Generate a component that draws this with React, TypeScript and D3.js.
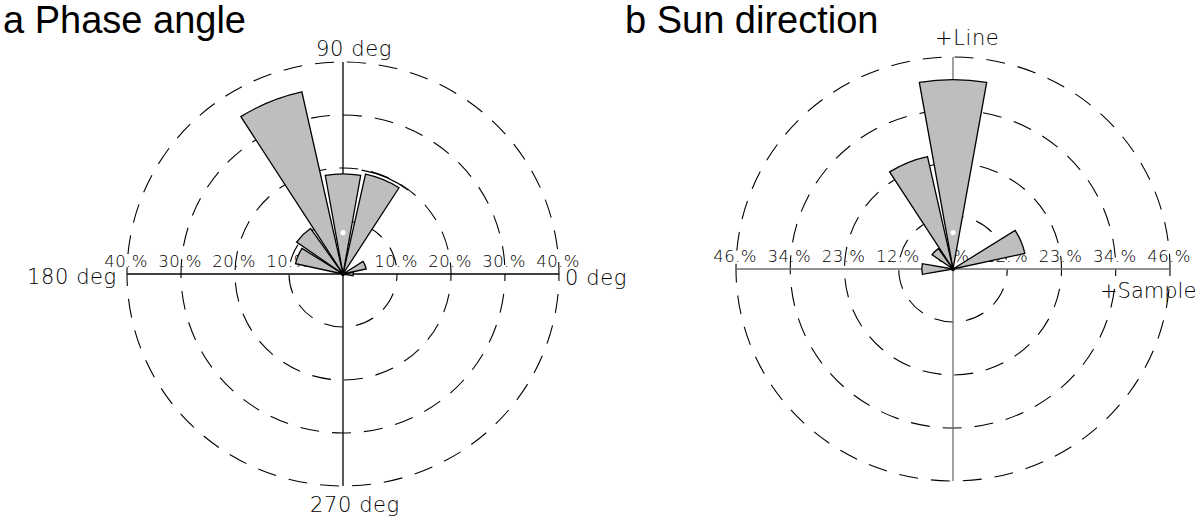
import React from 'react';
import * as d3 from 'd3';

// ---- data ----
const binCenters = [0, 22.5, 45, 67.5, 90, 112.5, 135, 157.5, 180, 202.5, 225, 247.5, 270, 292.5, 315, 337.5];
const phasePercent = [1.9, 4.4, 0, 19.3, 18.9, 35.2, 10.5, 9.0, 0, 0, 0, 0, 0, 0, 0, 0];
const sunPercent = [0, 15.6, 0, 0, 41.1, 25.0, 5.4, 0, 6.6, 0, 0, 0, 0, 0, 0, 0];
const phaseRingValues = [10, 20, 30, 40];
const phaseRingLabels = ['10.%', '20.%', '30.%', '40.%'];
const sunRingValues = [11.5, 23, 34.5, 46];
const sunRingLabels = ['12.%', '23.%', '34.%', '46.%'];
const phaseMean = { angle: 90, value: 7.8 };
const sunMean = { angle: 90, value: 7.9 };
const phaseErrArc = { start: 52.5, end: 80, value: 19.9 };
const panelTitles = ['a Phase angle', 'b Sun direction'];
const phaseAxisLabels = ['0 deg', '90 deg', '180 deg', '270 deg'];
const sunAxisLabels = ['+Sample', '+Line'];

const HALF_WIDTH = 10; // degrees drawn each side of bin centre
const thinFont = "'DejaVu Sans ExtraLight', 'DejaVu Sans', sans-serif";

const toD3 = (deg: number) => ((90 - deg) * Math.PI) / 180;

type PanelProps = {
  cx: number; cy: number; radius: number; ky: number; max: number;
  values: number[]; ringValues: number[]; ringLabels: string[];
  axisColor: string; mean: { angle: number; value: number };
  errArc?: { start: number; end: number; value: number };
  centerLabel?: string;
};

function Panel(p: PanelProps) {
  const r = d3.scaleLinear().domain([0, p.max]).range([0, p.radius]);
  const arc = d3.arc<any>();
  const ns = { vectorEffect: 'non-scaling-stroke' as const };
  const wedges = binCenters
    .map((c, i) => ({ c, v: p.values[i] }))
    .filter((d) => d.v > 0);
  const labelY = p.cy - 7;
  const mx = p.cx + r(p.mean.value) * Math.cos((p.mean.angle * Math.PI) / 180);
  const my = p.cy - r(p.mean.value) * p.ky * Math.sin((p.mean.angle * Math.PI) / 180);
  return (
    <g>
      <g transform={`translate(${p.cx},${p.cy}) scale(1,${p.ky})`}>
        {p.ringValues.map((v, i) => (
          <circle key={'ring' + i} r={r(v)} fill="none" stroke="#000" strokeWidth={1.1}
            strokeDasharray="19 13" strokeDashoffset={12} style={ns} />
        ))}
        <line x1={-p.radius} x2={p.radius} y1={0} y2={0} stroke={p.axisColor} strokeWidth={1.3} style={ns} />
        <line x1={0} x2={0} y1={-p.radius} y2={p.radius} stroke={p.axisColor} strokeWidth={1.3} style={ns} />
      </g>
      {p.ringValues.map((v, i) => (
        <g key={'lab' + i} fontFamily={thinFont} fontWeight={200} fontSize={16.5} fill="#000" textAnchor="middle" letterSpacing={0.4}>
          <text x={p.cx - r(v) - 1} y={labelY}>{p.ringLabels[i]}</text>
          <text x={p.cx + r(v) - 1} y={labelY}>{p.ringLabels[i]}</text>
        </g>
      ))}
      {p.centerLabel && (
        <text x={p.cx} y={labelY} fontFamily={thinFont} fontWeight={200} fontSize={16.5} fill="#000" textAnchor="middle" letterSpacing={0.4}>
          {p.centerLabel}
        </text>
      )}
      <g transform={`translate(${p.cx},${p.cy}) scale(1,${p.ky})`}>
        {wedges.map((d, i) => (
          <path key={'w' + i}
            d={arc({ innerRadius: 0, outerRadius: r(d.v), startAngle: toD3(d.c + HALF_WIDTH), endAngle: toD3(d.c - HALF_WIDTH) }) || ''}
            fill="#bebebe" stroke="#000" strokeWidth={1.3} strokeLinejoin="miter" style={ns} />
        ))}
        {p.errArc && (
          <path
            d={(() => {
              const pth = d3.path();
              const rr = r(p.errArc.value);
              pth.arc(0, 0, rr, (-p.errArc.end * Math.PI) / 180, (-p.errArc.start * Math.PI) / 180);
              return pth.toString();
            })()}
            fill="none" stroke="#000" strokeWidth={1.1} style={ns} />
        )}
        <circle r={2.2} fill="#000" />
      </g>
      <circle cx={mx} cy={my} r={2.6} fill="#fff" />
    </g>
  );
}

export default function App() {
  const axisText = { fontFamily: thinFont, fontWeight: 200, fontSize: 21, fill: '#000', letterSpacing: 0.6 } as const;
  return (
    <svg width={1200} height={520} viewBox="0 0 1200 520"
      style={{ position: 'absolute', left: 0, top: 0, background: '#fff', display: 'block' }}>
      <rect width={1200} height={520} fill="#fff" />
      <Panel cx={343} cy={274} radius={216} ky={212 / 216} max={40}
        values={phasePercent} ringValues={phaseRingValues} ringLabels={phaseRingLabels}
        axisColor="#000" mean={phaseMean} errArc={phaseErrArc} />
      <Panel cx={953} cy={269} radius={217} ky={212 / 217} max={46}
        values={sunPercent} ringValues={sunRingValues} ringLabels={sunRingLabels}
        axisColor="#6e6e6e" mean={sunMean} centerLabel="0.%" />
      <g {...axisText}>
        <text x={565} y={285}>{phaseAxisLabels[0]}</text>
        <text x={316} y={56}>{phaseAxisLabels[1]}</text>
        <text x={27} y={284}>{phaseAxisLabels[2]}</text>
        <text x={310} y={512}>{phaseAxisLabels[3]}</text>
        <text x={1100} y={298} letterSpacing={0}>{sunAxisLabels[0]}</text>
        <text x={935} y={45}>{sunAxisLabels[1]}</text>
      </g>
      <g fontFamily="'Liberation Sans', Arial, sans-serif" fontSize={38} fill="#000">
        <text x={3} y={33}>{panelTitles[0]}</text>
        <text x={625} y={33}>{panelTitles[1]}</text>
      </g>
    </svg>
  );
}
